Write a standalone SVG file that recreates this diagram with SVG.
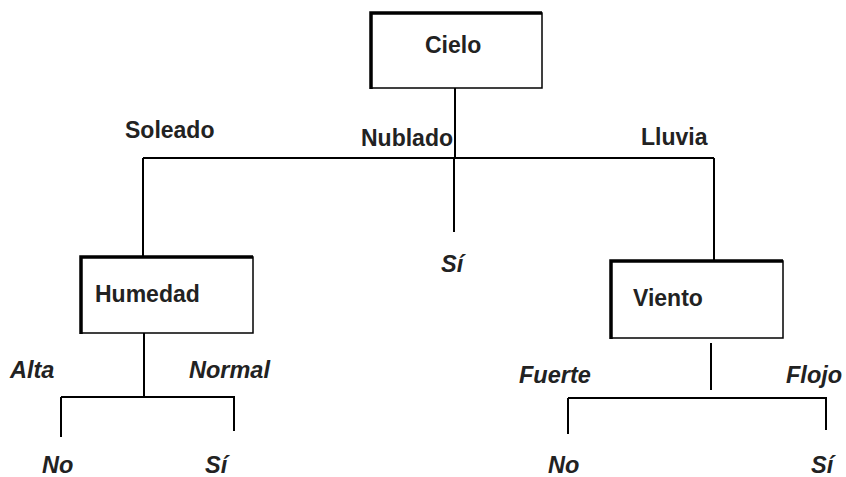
<svg xmlns="http://www.w3.org/2000/svg" width="846" height="477" viewBox="0 0 846 477">
<style>
.box{fill:#fff;stroke:#000;stroke-width:1.5}
.thick{stroke:#000;stroke-width:3.5;fill:none}
.ln{stroke:#000;stroke-width:2;fill:none}
text{font-family:"Liberation Sans",Arial,sans-serif;font-weight:bold;font-size:23px;fill:#222}
.it{font-style:italic;font-size:23.5px}
</style>
<rect width="846" height="477" fill="#fff"/>
<g id="connectors">
<path class="ln" d="M455 88V158M143 158H714M143 158V256M714 158V260M454 158V232"/>
<path class="ln" d="M144 333V397M61 397H235M61 397V437M234 397V431"/>
<path class="ln" d="M711 343V390M568 398H827M568 398V434M826 398V430"/>
</g>
<g id="labels">
<text x="125" y="138">Soleado</text>
<text x="361" y="146">Nublado</text>
<text x="641" y="145">Lluvia</text>
<text x="10" y="378" class="it">Alta</text>
<text x="189" y="378" class="it">Normal</text>
<text x="519" y="383" class="it">Fuerte</text>
<text x="786" y="383" class="it">Flojo</text>
</g>
<g id="cielo">
<rect class="box" x="371" y="13" width="171" height="75"/>
<path class="thick" d="M371 89V13H542"/>
<text x="425" y="53">Cielo</text>
</g>
<g id="humedad">
<rect class="box" x="81" y="257" width="172" height="76"/>
<path class="thick" d="M81 334V257H253"/>
<text x="95" y="302">Humedad</text>
</g>
<g id="viento">
<rect class="box" x="611" y="261" width="172" height="77"/>
<path class="thick" d="M611 339V261H783"/>
<text x="633" y="306">Viento</text>
</g>
<g id="si-nublado"><text x="441" y="272" class="it">Sí</text></g>
<g id="no-alta"><text x="42" y="473" class="it">No</text></g>
<g id="si-normal"><text x="205" y="473" class="it">Sí</text></g>
<g id="no-fuerte"><text x="548" y="473" class="it">No</text></g>
<g id="si-flojo"><text x="811" y="473" class="it">Sí</text></g>
</svg>
